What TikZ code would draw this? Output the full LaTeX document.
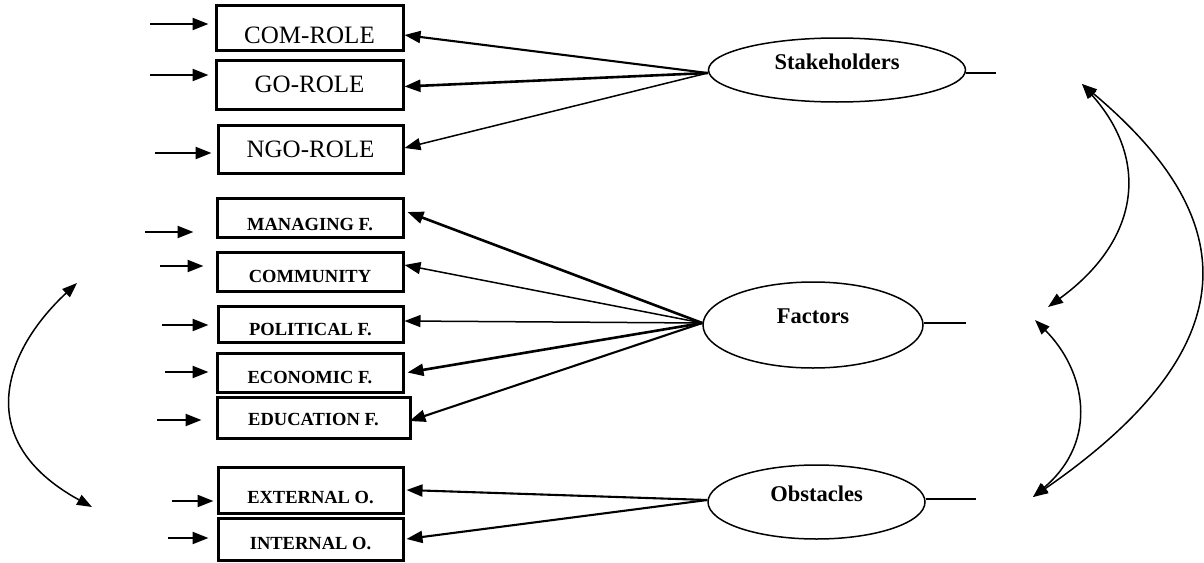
\documentclass[tikz,border=0pt]{standalone}
\usepackage{fontspec}
\setmainfont{Liberation Serif}
\usetikzlibrary{arrows.meta,shapes.geometric}
\begin{document}
\begin{tikzpicture}[x=1pt,y=-1pt,
  box/.style={draw, line width=3pt, rectangle, inner sep=0pt, anchor=base, align=center},
  rbox/.style={box, font=\fontsize{25}{30}\selectfont},
  bbox/.style={box, font=\bfseries\fontsize{18.5}{22}\selectfont},
  lat/.style={draw, ellipse, line width=1.5pt, inner sep=0pt, anchor=center, text height=16pt, font=\bfseries\fontsize{22.5}{26}\selectfont},
  tip/.style={-{Triangle[length=16pt,width=12pt]}},
  thk/.style={tip, line width=2.6pt},
  mid/.style={tip, line width=2.1pt},
  thn/.style={tip, line width=1.5pt},
  inarr/.style={tip, line width=2.2pt},
  cov/.style={{Triangle[length=15pt,width=11pt]}-{Triangle[length=15pt,width=11pt]}, line width=1.5pt},
  stub/.style={line width=2.8pt}
]
\useasboundingbox (0,0) rectangle (1204,562);

% observed variables
\node[rbox, minimum width=187pt, text height=38pt, text depth=7pt]  (com) at (309.5,43) {COM-ROLE};
\node[rbox, minimum width=187pt, text height=32pt, text depth=17pt] (go)  at (309.5,92) {GO-ROLE};
\node[rbox, minimum width=185pt, text height=32pt, text depth=16pt] (ngo) at (310.5,157) {NGO-ROLE};
\node[bbox, minimum width=186pt, text height=32pt, text depth=7pt]  (man) at (310,230) {MANAGING F.};
\node[bbox, minimum width=186pt, text height=30pt, text depth=9pt]  (cmy) at (310,282) {COMMUNITY};
\node[bbox, minimum width=185pt, text height=29pt, text depth=7pt]  (pol) at (310.5,335) {POLITICAL F.};
\node[bbox, minimum width=186pt, text height=30pt, text depth=9pt]  (eco) at (310,383) {ECONOMIC F.};
\node[bbox, minimum width=193pt, text height=28pt, text depth=13pt] (edu) at (313.5,425) {EDUCATION F.};
\node[bbox, minimum width=185pt, text height=36pt, text depth=10pt] (ext) at (310.5,503) {EXTERNAL O.};
\node[bbox, minimum width=185pt, text height=31pt, text depth=11pt] (int) at (310.5,549) {INTERNAL O.};

% latent variables
\node[lat, minimum width=257pt, minimum height=64pt, text depth=18pt] (stk) at (837,70) {Stakeholders};
\node[lat, minimum width=220pt, minimum height=86pt, text depth=20pt] (fac) at (813,325) {Factors};
\node[lat, minimum width=217pt, minimum height=74pt, text depth=18pt] (obs) at (816.5,502) {Obstacles};

% error inputs (free ends)
\coordinate (eCom) at (150,24);
\coordinate (eGo)  at (150,75);
\coordinate (eNgo) at (155,153);
\coordinate (eMan) at (145,232);
\coordinate (eCmy) at (160,266);
\coordinate (ePol) at (162,325);
\coordinate (eEco) at (165,372);
\coordinate (eEdu) at (157,420);
\coordinate (eExt) at (172,501);
\coordinate (eInt) at (168,538);

\draw[inarr, shorten >=6pt]  (eCom) -- (eCom -| com.west);
\draw[inarr, shorten >=6pt]  (eGo)  -- (eGo -| go.west);
\draw[inarr, shorten >=5pt]  (eNgo) -- (eNgo -| ngo.west);
\draw[inarr, shorten >=22pt] (eMan) -- (eMan -| man.west);
\draw[inarr, shorten >=12pt] (eCmy) -- (eCmy -| cmy.west);
\draw[inarr, shorten >=8pt]  (ePol) -- (ePol -| pol.west);
\draw[inarr, shorten >=7pt]  (eEco) -- (eEco -| eco.west);
\draw[inarr, shorten >=14pt] (eEdu) -- (eEdu -| edu.west);
\draw[inarr, shorten >=3pt]  (eExt) -- (eExt -| ext.west);
\draw[inarr, shorten >=8pt]  (eInt) -- (eInt -| int.west);

% loadings
\draw[mid] ([yshift=-3pt]stk.west) -- ([yshift=-7.5pt]com.east);
\draw[thk] ([yshift=-3pt]stk.west) -- ([yshift=-2pt]go.east);
\draw[thn] ([yshift=-3pt]stk.west) -- ([yshift=1pt]ngo.east);

\draw[thk] ([yshift=2pt]fac.west) -- ([xshift=3pt,yshift=5.5pt]man.east);
\draw[thn] ([yshift=2pt]fac.west) -- ([yshift=6.5pt]cmy.east);
\draw[thn] ([yshift=2pt]fac.west) -- ([yshift=3pt]pol.east);
\draw[thk] ([yshift=2pt]fac.west) -- ([xshift=3pt]eco.east);
\draw[mid] ([yshift=2pt]fac.west) -- ([xshift=-2pt,yshift=-3.5pt]edu.east);

\draw[mid] ([yshift=2pt]obs.west) -- ([xshift=2pt]ext.east);
\draw[mid] ([yshift=2pt]obs.west) -- ([xshift=2pt]int.east);

% stubs to the right of latent variables
\coordinate (sStk) at (996,73);
\coordinate (sFac) at (966,323);
\coordinate (sObs) at (976,499);
\draw[stub] (sStk -| stk.east) -- (sStk);
\draw[line width=1.5pt] (sFac -| fac.east) -- (sFac);
\draw[stub] (sObs -| obs.east) -- (sObs);

% covariances (right)
\coordinate (cS)  at (1082,84);
\coordinate (cF1) at (1048,307);
\coordinate (cF2) at (1035,320);
\coordinate (cO)  at (1033,497);
\draw[cov] (cS) .. controls (1150,160) and (1140,240) .. (cF1);
\draw[cov] (cS) .. controls (1220,200) and (1275,330) .. (cO);
\draw[cov] (cF2) .. controls (1085,370) and (1100,440) .. (cO);

% covariance (left)
\coordinate (lT) at (77,283);
\coordinate (lB) at (92,507);
\draw[cov] (lB) .. controls (-30,440) and (5,350) .. (lT);
\end{tikzpicture}
\end{document}
